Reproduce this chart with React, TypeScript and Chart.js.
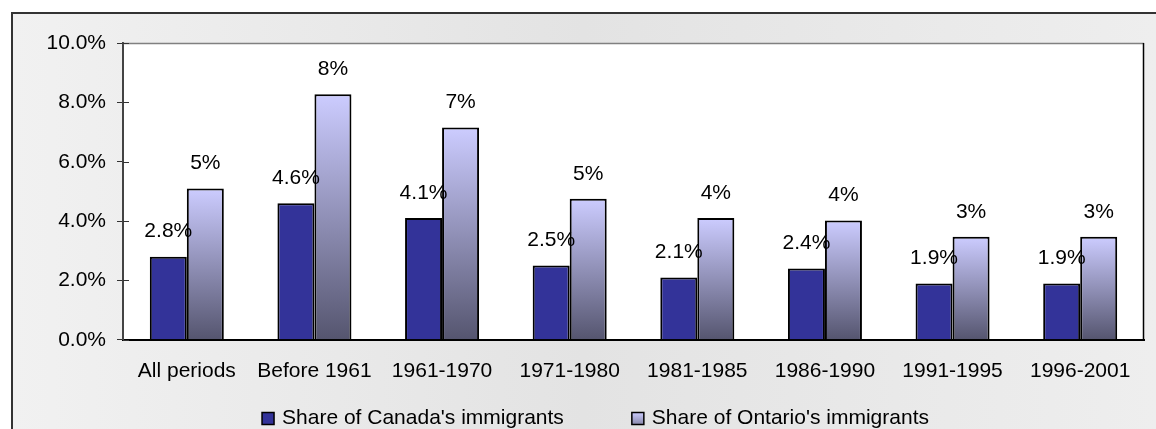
import { useEffect, useRef } from 'react';
import { Chart, registerables } from 'chart.js';

Chart.register(...registerables);

const categories = ['All periods', 'Before 1961', '1961-1970', '1971-1980', '1981-1985', '1986-1990', '1991-1995', '1996-2001'];
const canadaShare = [2.8, 4.6, 4.1, 2.5, 2.1, 2.4, 1.9, 1.9];
const ontarioShare = [5.1, 8.27, 7.15, 4.75, 4.1, 4.02, 3.47, 3.47];
const seriesNames = ["Share of Canada's immigrants", "Share of Ontario's immigrants"];
const yMin = 0;
const yMax = 10;
const yStep = 2;

const FONT = "'Liberation Sans', Arial, sans-serif";
const FS = 21;
const CANADA_COLOR = '#333399';
const ONT_TOP = '#CCCCFF';
const ONT_BOTTOM = '#55556F';

const ontarioFill = (ctx: any) => {
  const chart = ctx.chart;
  if (!chart.chartArea || ctx.type !== 'data') return '#A8A8D8';
  const y = chart.scales.y;
  const top = y.getPixelForValue(ctx.raw);
  const bottom = y.getPixelForValue(0);
  const g = chart.ctx.createLinearGradient(0, top, 0, bottom);
  g.addColorStop(0, ONT_TOP);
  g.addColorStop(1, ONT_BOTTOM);
  return g;
};

const framePlugin = {
  id: 'frame',
  beforeDraw(chart: any) {
    const { ctx, width, height, chartArea } = chart;
    ctx.save();
    ctx.fillStyle = '#ffffff';
    ctx.fillRect(0, 0, width, height);
    const g = ctx.createLinearGradient(11, 0, width, 0);
    g.addColorStop(0, '#f1f1f1');
    g.addColorStop(0.5, '#e3e3e3');
    g.addColorStop(1, '#eeeeee');
    ctx.fillStyle = g;
    ctx.fillRect(12, 13, width + 20, height + 20);
    ctx.strokeStyle = '#333333';
    ctx.lineWidth = 2;
    ctx.strokeRect(12, 13, width + 20, height + 20);
    ctx.fillStyle = '#ffffff';
    ctx.fillRect(chartArea.left, chartArea.top, chartArea.right - chartArea.left, chartArea.bottom - chartArea.top);
    ctx.restore();
  },
  beforeDatasetsDraw(chart: any) {
    const { ctx, chartArea } = chart;
    ctx.save();
    ctx.lineWidth = 1.5;
    ctx.strokeStyle = '#808080';
    ctx.beginPath();
    ctx.moveTo(chartArea.left, chartArea.top + 0.5);
    ctx.lineTo(chartArea.right, chartArea.top + 0.5);
    ctx.stroke();
    ctx.strokeStyle = '#000000';
    ctx.beginPath();
    ctx.moveTo(chartArea.right - 0.5, chartArea.top);
    ctx.lineTo(chartArea.right - 0.5, chartArea.bottom);
    ctx.stroke();
    // inner half of the crossing tick marks
    const y = chart.scales.y;
    ctx.strokeStyle = '#333333';
    ctx.lineWidth = 1;
    y.ticks.forEach((t: any) => {
      const py = Math.round(y.getPixelForValue(t.value)) + 0.5;
      ctx.beginPath();
      ctx.moveTo(chartArea.left, py);
      ctx.lineTo(chartArea.left + 6, py);
      ctx.stroke();
    });
    ctx.restore();
  },
  afterDatasetsDraw(chart: any) {
    const { ctx } = chart;
    ctx.save();
    ctx.font = `${FS}px ${FONT}`;
    ctx.fillStyle = '#000000';
    ctx.textAlign = 'center';
    ctx.textBaseline = 'middle';
    chart.data.datasets.forEach((ds: any, di: number) => {
      const meta = chart.getDatasetMeta(di);
      meta.data.forEach((bar: any, i: number) => {
        const v = ds.data[i];
        const txt = di === 0 ? `${v.toFixed(1)}%` : `${Math.round(v)}%`;
        ctx.fillText(txt, bar.x, bar.y - 25);
      });
    });
    ctx.restore();
  },
  afterDraw(chart: any) {
    const { ctx } = chart;
    ctx.save();
    ctx.font = `${FS}px ${FONT}`;
    ctx.textBaseline = 'middle';
    ctx.textAlign = 'left';
    const box = 12;
    const gap = 8;
    const spacing = 68;
    const widths = seriesNames.map((s) => ctx.measureText(s).width);
    const total = widths.reduce((a, w) => a + box + gap + w, 0) + spacing * (seriesNames.length - 1);
    let x = 595.5 - total / 2;
    const cy = 418.5;
    seriesNames.forEach((name, i) => {
      if (i === 0) {
        ctx.fillStyle = CANADA_COLOR;
      } else {
        const g = ctx.createLinearGradient(0, cy - box / 2, 0, cy + box / 2);
        g.addColorStop(0, ONT_TOP);
        g.addColorStop(1, '#8888AA');
        ctx.fillStyle = g;
      }
      ctx.fillRect(x, cy - box / 2, box, box);
      ctx.strokeStyle = '#000000';
      ctx.lineWidth = 1.5;
      ctx.strokeRect(x, cy - box / 2, box, box);
      ctx.fillStyle = '#000000';
      ctx.fillText(name, x + box + gap, cy);
      x += box + gap + widths[i] + spacing;
    });
    ctx.restore();
  },
};

export default function App() {
  const ref = useRef<HTMLCanvasElement | null>(null);
  useEffect(() => {
    if (!ref.current) return;
    const chart = new Chart(ref.current, {
      type: 'bar',
      data: {
        labels: categories,
        datasets: [
          {
            label: seriesNames[0],
            data: canadaShare,
            backgroundColor: CANADA_COLOR,
            borderColor: '#000000',
            borderWidth: 2,
            categoryPercentage: 0.58,
            barPercentage: 1.0,
          },
          {
            label: seriesNames[1],
            data: ontarioShare,
            backgroundColor: ontarioFill,
            borderColor: '#000000',
            borderWidth: 2,
            categoryPercentage: 0.58,
            barPercentage: 1.0,
          },
        ],
      },
      options: {
        responsive: false,
        animation: false,
        devicePixelRatio: 1,
        layout: { padding: { top: 43, right: 12, left: 0, bottom: 34 } },
        font: { family: FONT, size: FS },
        plugins: {
          legend: { display: false },
          tooltip: { enabled: false },
          title: { display: false },
        },
        scales: {
          x: {
            grid: { display: false },
            border: { display: true, color: '#000000', width: 2 },
            ticks: { color: '#000000', font: { family: FONT, size: FS }, padding: 11, maxRotation: 0, autoSkip: false },
          },
          y: {
            min: yMin,
            max: yMax,
            afterFit: (s: any) => {
              s.width = 123;
            },
            grid: { display: true, drawOnChartArea: false, drawTicks: true, tickLength: 6, color: '#333333' },
            border: { display: true, color: '#444444', width: 2 },
            ticks: {
              stepSize: yStep,
              color: '#000000',
              padding: 11,
              font: { family: FONT, size: FS },
              callback: (v: any) => `${Number(v).toFixed(1)}%`,
            },
          },
        },
      },
      plugins: [framePlugin],
    });
    return () => chart.destroy();
  }, []);
  return (
    <div style={{ position: 'fixed', left: 0, top: 0, width: 1156, height: 429, overflow: 'hidden', background: '#fff' }}>
      <canvas ref={ref} width={1156} height={429} style={{ display: 'block', width: 1156, height: 429 }} />
    </div>
  );
}
